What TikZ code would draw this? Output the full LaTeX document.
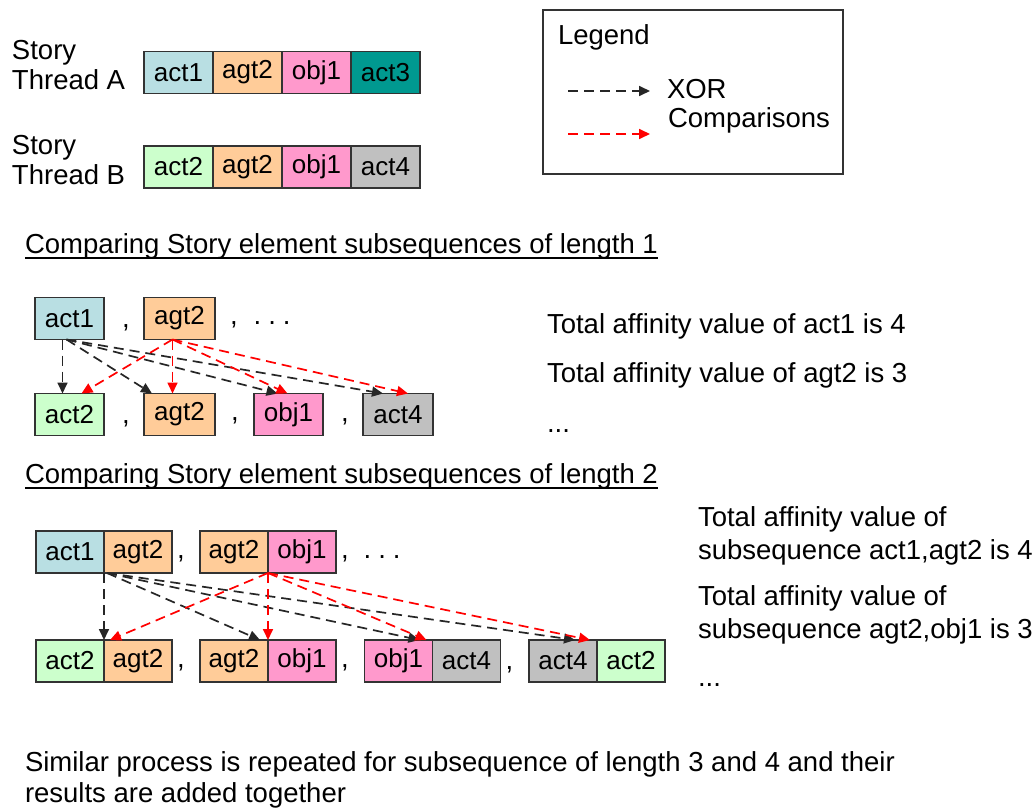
\documentclass[tikz,border=0pt]{standalone}
\usepackage{fontspec}
\setmainfont{Liberation Sans}
\usepackage{tikz}
\usetikzlibrary{arrows.meta, positioning}
\definecolor{Edge}{HTML}{333333}
\definecolor{ActBlue}{HTML}{B9DFE3}
\definecolor{AgtOrange}{HTML}{FFCC99}
\definecolor{ObjPink}{HTML}{FF99CC}
\definecolor{ActTeal}{HTML}{009990}
\definecolor{ActGreen}{HTML}{CCFFCC}
\definecolor{ActGray}{HTML}{C0C0C0}

\begin{document}
\begin{tikzpicture}[x=1pt, y=-1pt,
    every node/.style={inner sep=0pt, outer sep=0pt, font=\fontsize{27.5}{31}\selectfont},
    elem/.style={draw=Edge, line width=1.2pt, minimum width=69pt, minimum height=42pt, font=\fontsize{26}{31}\selectfont},
    pair/.style={elem, minimum width=68pt},
    xorarrow/.style={draw=black!85, line width=1.7pt, dash pattern=on 10pt off 6pt, -{Triangle[length=11pt,width=10pt]}},
    cmparrow/.style={xorarrow, draw=red, red}]
    \useasboundingbox (0,0) rectangle (1035,810);

    % Story threads
    \node[anchor=north west, align=left, font=\fontsize{27.5}{30}\selectfont] (labA) at (12,40) {Story\\Thread A};
    \node[elem, fill=ActBlue] (ta1) at (178.5,72.5) {act1};
    \node[elem, fill=AgtOrange, right=0pt of ta1] (ta2) {agt2};
    \node[elem, fill=ObjPink, right=0pt of ta2] (ta3) {obj1};
    \node[elem, fill=ActTeal, right=0pt of ta3] (ta4) {act3};

    \node[anchor=north west, align=left, font=\fontsize{27.5}{30}\selectfont] (labB) at (12,135) {Story\\Thread B};
    \node[elem, fill=ActGreen] (tb1) at (178.5,167) {act2};
    \node[elem, fill=AgtOrange, right=0pt of tb1] (tb2) {agt2};
    \node[elem, fill=ObjPink, right=0pt of tb2] (tb3) {obj1};
    \node[elem, fill=ActGray, right=0pt of tb3] (tb4) {act4};

    % Legend
    \draw[draw=Edge, line width=1.2pt] (543,10) rectangle (843,174);
    \node[anchor=base west] (legtitle) at (558,45) {Legend};
    \node[anchor=base west] (xortxt) at (667,99) {XOR};
    \node[anchor=base west] (cmptxt) at (668,128) {Comparisons};
    \coordinate (xorS) at (568,91);
    \coordinate (xorE) at (650,91);
    \coordinate (cmpS) at (568,134);
    \coordinate (cmpE) at (650,134);
    \draw[xorarrow] (xorS) -- (xorE);
    \draw[cmparrow] (cmpS) -- (cmpE);

    % Length 1
    \node[anchor=base west] (head1) at (25,253) {Comparing Story element subsequences of length 1};
    \draw[line width=1.4pt] ([yshift=-5pt]head1.base west) -- ([yshift=-5pt]head1.base east);

    \node[elem, fill=ActBlue] (s1) at (69.5,318.5) {act1};
    \node[anchor=base west] (s1c) at ([xshift=18pt]s1.base east) {,};
    \node[elem, fill=AgtOrange, minimum width=71pt] (s2) at (179.5,318.5) {agt2};
    \node[anchor=base west] (s2c) at ([xshift=15pt]s2.base east) {,\hspace{16pt}.\hspace{7pt}.\hspace{7pt}.};

    \node[elem, fill=ActGreen] (t1) at (69.5,414.5) {act2};
    \node[anchor=base west] (t1c) at ([xshift=18pt]t1.base east) {,};
    \node[elem, fill=AgtOrange, minimum width=71pt] (t2) at (179.5,414.5) {agt2};
    \node[anchor=base west] (t2c) at ([xshift=16pt]t2.base east) {,};
    \node[elem, fill=ObjPink] (t3) at (288.5,414.5) {obj1};
    \node[anchor=base west] (t3c) at ([xshift=18pt]t3.base east) {,};
    \node[elem, fill=ActGray, minimum width=70pt] (t4) at (398,414.5) {act4};

    \draw[xorarrow] ([xshift=-7pt]s1.south) -- ([xshift=-7pt]t1.north);
    \draw[xorarrow] ([xshift=-3pt]s1.south) -- ([xshift=8pt]t2.north west);
    \draw[xorarrow] ([xshift=-3pt]s1.south) -- ([xshift=-11pt]t3.north);
    \draw[xorarrow] ([xshift=-3pt]s1.south) -- ([xshift=-15pt]t4.north);
    \draw[cmparrow] ([xshift=-7pt]s2.south) -- ([xshift=12pt]t1.north);
    \draw[cmparrow] ([xshift=-7pt]s2.south) -- ([xshift=-7pt]t2.north);
    \draw[cmparrow] ([xshift=-7pt]s2.south) -- ([xshift=-1pt]t3.north);
    \draw[cmparrow] ([xshift=-7pt]s2.south) -- ([xshift=10pt]t4.north);

    \node[anchor=base west] (aff1) at (547,333) {Total affinity value of act1 is 4};
    \node[anchor=base west] (aff2) at (547,382) {Total affinity value of agt2 is 3};
    \node[anchor=base west] (aff3) at (547,432) {...};

    % Length 2
    \node[anchor=base west] (head2) at (25,483) {Comparing Story element subsequences of length 2};
    \draw[line width=1.4pt] ([yshift=-5pt]head2.base west) -- ([yshift=-5pt]head2.base east);

    \node[pair, fill=ActBlue] (p1a) at (70,552) {act1};
    \node[pair, fill=AgtOrange, right=0pt of p1a] (p1b) {agt2};
    \node[anchor=base west] (p1c) at ([xshift=5pt]p1b.base east) {,};
    \node[pair, fill=AgtOrange] (p2a) at (234,552) {agt2};
    \node[pair, fill=ObjPink, right=0pt of p2a] (p2b) {obj1};
    \node[anchor=base west] (p2c) at ([xshift=5pt]p2b.base east) {,\hspace{15pt}.\hspace{7pt}.\hspace{7pt}.};

    \node[pair, fill=ActGreen] (q1a) at (70,661) {act2};
    \node[pair, fill=AgtOrange, right=0pt of q1a] (q1b) {agt2};
    \node[anchor=base west] (q1c) at ([xshift=5pt]q1b.base east) {,};
    \node[pair, fill=AgtOrange] (q2a) at (234,661) {agt2};
    \node[pair, fill=ObjPink, right=0pt of q2a] (q2b) {obj1};
    \node[anchor=base west] (q2c) at ([xshift=5pt]q2b.base east) {,};
    \node[pair, fill=ObjPink] (q3a) at (398.5,661) {obj1};
    \node[pair, fill=ActGray, right=0pt of q3a] (q3b) {act4};
    \node[anchor=base west] (q3c) at ([xshift=5pt]q3b.base east) {,};
    \node[pair, fill=ActGray] (q4a) at (563,661) {act4};
    \node[pair, fill=ActGreen, right=0pt of q4a] (q4b) {act2};

    \draw[xorarrow] (p1a.south east) -- (q1a.north east);
    \draw[xorarrow] ([xshift=3pt]p1a.south east) -- ([xshift=-8pt]q2a.north east);
    \draw[xorarrow] ([xshift=3pt]p1a.south east) -- ([xshift=-13pt]q3a.north east);
    \draw[xorarrow] ([xshift=3pt]p1a.south east) -- ([xshift=-22pt]q4a.north east);
    \draw[cmparrow] (p2a.south east) -- ([xshift=6pt]q1a.north east);
    \draw[cmparrow] (p2a.south east) -- (q2a.north east);
    \draw[cmparrow] (p2a.south east) -- ([xshift=-6pt]q3a.north east);
    \draw[cmparrow] (p2a.south east) -- ([xshift=-7pt]q4a.north east);

    \node[anchor=north west, align=left, font=\fontsize{27.5}{33}\selectfont] (aff4) at (698,507) {Total affinity value of\\subsequence act1,agt2 is 4};
    \node[anchor=north west, align=left, font=\fontsize{27.5}{33}\selectfont] (aff5) at (698,586) {Total affinity value of\\subsequence agt2,obj1 is 3};
    \node[anchor=base west] (aff6) at (698,686) {...};

    % Closing note
    \node[anchor=north west, align=left] (note) at (25,752) {Similar process is repeated for subsequence of length 3 and 4 and their\\results are added together};
\end{tikzpicture}
\end{document}
